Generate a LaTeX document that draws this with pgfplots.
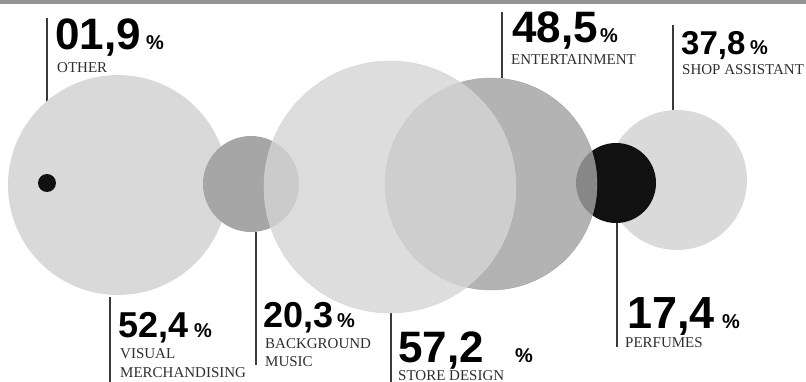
\documentclass[border=0pt]{standalone}
\usepackage{pgfplots}
\pgfplotsset{compat=1.18}
\usepackage{fontspec}
\setmainfont{Liberation Serif}
\newfontfamily\numfont{Liberation Sans}
\definecolor{lblc}{HTML}{2E2E2E}
\definecolor{linec}{HTML}{3A3A3A}
\definecolor{vmc}{HTML}{D9D9D9}
\definecolor{bgc}{HTML}{A6A6A6}
\definecolor{shc}{HTML}{DADADA}
\definecolor{pfc}{HTML}{111111}
\definecolor{enc}{HTML}{A2A2A2}
\definecolor{sdc}{HTML}{D5D5D5}
\newcommand{\bignum}[2]{{\numfont\bfseries\fontsize{#1}{#1}\selectfont #2}}
\newcommand{\pct}[1]{{\numfont\bfseries\fontsize{#1}{#1}\selectfont \%}}
\newcommand{\lbl}[1]{{\fontsize{15}{19}\selectfont\color{lblc}#1}}
\pgfplotsset{bubble/.style={only marks, mark=*, color=#1, mark options={fill=#1, draw opacity=0, line width=0pt}}}
\tikzset{num/.style={anchor=base west, inner sep=0, text depth=0pt}}
\begin{document}
\begin{tikzpicture}
\useasboundingbox (0,0) rectangle (806pt,382pt);
\clip (0,0) rectangle (806pt,382pt);
\begin{axis}[at={(0,0)}, anchor=south west,
  width=806pt, height=382pt, scale only axis,
  xmin=0, xmax=806, ymin=0, ymax=382, y dir=reverse,
  hide axis, clip=false]
% top band
\addplot[fill=black!42, draw=none] coordinates {(0,0) (806,0) (806,4.5) (0,4.5)} -- cycle;
% circles (x, y, radius in px)
\addplot[bubble=vmc, mark size=110pt] coordinates {(118,185)};
\addplot[bubble=pfc, mark size=9pt] coordinates {(47,183)};
\addplot[bubble=bgc, mark size=48pt] coordinates {(251,184)};
\addplot[bubble=shc, mark size=70pt] coordinates {(677,180)};
\addplot[bubble=pfc, mark size=40pt] coordinates {(616,183)};
\addplot[bubble=enc, mark size=106pt, mark options={fill opacity=0.82}] coordinates {(491,184)};
\addplot[bubble=sdc, mark size=126pt, mark options={fill opacity=0.8}] coordinates {(390,187)};
% leader lines
\addplot[linec, line width=1.1pt] coordinates {(47,18) (47,183)};
\addplot[linec, line width=1.1pt] coordinates {(502,12) (502,78)};
\addplot[linec, line width=1.1pt] coordinates {(673,25) (673,110)};
\addplot[linec, line width=1.1pt] coordinates {(110,297) (110,382)};
\addplot[linec, line width=1.1pt] coordinates {(256,232) (256,365)};
\addplot[linec, line width=1.1pt] coordinates {(391,313) (391,382)};
\addplot[linec, line width=1.1pt] coordinates {(617,222) (617,347)};
% labels
\node[num] at (axis cs:55,50) {\bignum{44}{01,9}};
\node[num] at (axis cs:146,50) {\pct{20}};
\node[num] at (axis cs:57,73) {\lbl{OTHER}};

\node[num] at (axis cs:512,43) {\bignum{44}{48,5}};
\node[num] at (axis cs:600,43) {\pct{20}};
\node[num] at (axis cs:511,65) {\lbl{ENTERTAINMENT}};

\node[num] at (axis cs:681,55) {\bignum{33}{37,8}};
\node[num] at (axis cs:750,55) {\pct{20}};
\node[num] at (axis cs:682,75) {\lbl{SHOP ASSISTANT}};

\node[num] at (axis cs:118,337) {\bignum{36}{52,4}};
\node[num] at (axis cs:194,337) {\pct{20}};
\node[num] at (axis cs:120,358) {\lbl{VISUAL}};
\node[num] at (axis cs:120,377) {\lbl{MERCHANDISING}};

\node[num] at (axis cs:263,327) {\bignum{36}{20,3}};
\node[num] at (axis cs:337,327) {\pct{20}};
\node[num] at (axis cs:265,348) {\lbl{BACKGROUND}};
\node[num] at (axis cs:265,366) {\lbl{MUSIC}};

\node[num] at (axis cs:398,362) {\bignum{44}{57,2}};
\node[num] at (axis cs:515,362) {\pct{20}};
\node[num] at (axis cs:398,380) {\lbl{STORE DESIGN}};

\node[num] at (axis cs:627,328) {\bignum{45}{17,4}};
\node[num] at (axis cs:722,328) {\pct{20}};
\node[num] at (axis cs:625,347) {\lbl{PERFUMES}};
\end{axis}
\end{tikzpicture}
\end{document}
